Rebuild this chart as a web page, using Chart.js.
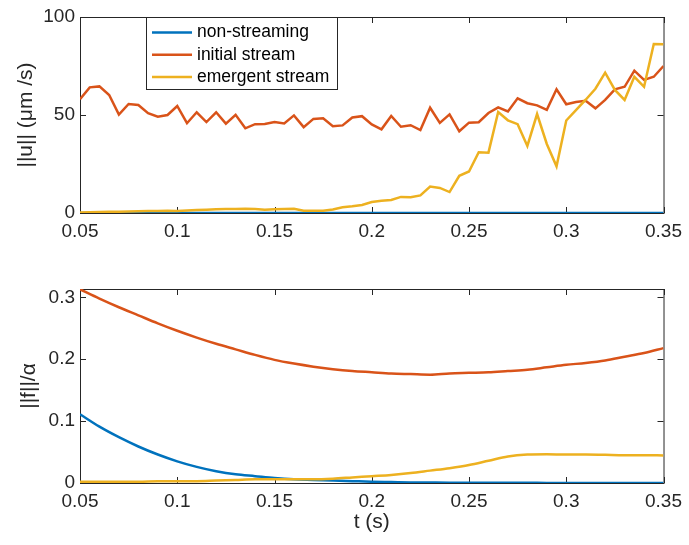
<!DOCTYPE html>
<html>
<head>
<meta charset="utf-8">
<title>stream norms</title>
<script src="https://cdn.jsdelivr.net/npm/chart.js@4"></script>
<style>
    html, body { margin: 0; padding: 0; background: #fff; }
    #wrap { position: relative; width: 689px; height: 545px; overflow: hidden; }
    #topChart { position: absolute; left: 0; top: 0; }
    #bottomChart { position: absolute; left: 0; top: 250px; }
</style>
</head>
<body>
<div id="wrap">
    <canvas id="topChart" width="689" height="250"></canvas>
    <canvas id="bottomChart" width="689" height="295"></canvas>
</div>
<script>
// time samples (s)
const tVelocity = [
    0.05, 0.055, 0.06, 0.065, 0.07, 0.075, 0.08, 0.085, 0.09, 0.095,
    0.10, 0.105, 0.11, 0.115, 0.12, 0.125, 0.13, 0.135, 0.14, 0.145,
    0.15, 0.155, 0.16, 0.165, 0.17, 0.175, 0.18, 0.185, 0.19, 0.195,
    0.20, 0.205, 0.21, 0.215, 0.22, 0.225, 0.23, 0.235, 0.24, 0.245,
    0.25, 0.255, 0.26, 0.265, 0.27, 0.275, 0.28, 0.285, 0.29, 0.295,
    0.30, 0.305, 0.31, 0.315, 0.32, 0.325, 0.33, 0.335, 0.34, 0.345,
    0.35
];
const tForce = [
    0.05, 0.06, 0.07, 0.08, 0.09, 0.10, 0.11, 0.12, 0.13, 0.14,
    0.15, 0.16, 0.17, 0.18, 0.19, 0.20, 0.21, 0.22, 0.23, 0.24,
    0.25, 0.26, 0.27, 0.28, 0.29, 0.30, 0.31, 0.32, 0.33, 0.34,
    0.35
];

// ||u|| (um/s)
const uNonStreaming = [
    0, 0, 0, 0, 0, 0, 0, 0, 0, 0,
    0, 0, 0, 0, 0, 0, 0, 0, 0, 0,
    0, 0, 0, 0, 0, 0, 0, 0, 0, 0,
    0, 0, 0, 0, 0, 0, 0, 0, 0, 0,
    0, 0, 0, 0, 0, 0, 0, 0, 0, 0,
    0, 0, 0, 0, 0, 0, 0, 0, 0, 0,
    0
];
const uInitial = [
    58.0, 64.1, 64.6, 60.2, 50.2, 55.6, 55.1, 50.9, 49.1, 50.0,
    54.6, 45.8, 51.4, 46.4, 51.4, 45.6, 50.1, 43.2, 45.3, 45.4,
    46.4, 45.7, 49.8, 43.8, 48.0, 48.3, 44.3, 44.7, 48.7, 49.4,
    45.2, 42.7, 49.5, 44.0, 44.8, 42.3, 53.7, 46.0, 50.3, 41.7,
    46.1, 46.3, 51.0, 53.9, 51.8, 58.5, 56.0, 54.9, 52.6, 63.1,
    55.5, 56.6, 57.3, 53.4, 57.7, 63.1, 64.4, 72.6, 67.9, 69.5,
    75.0
];
const uEmergent = [
    0.3, 0.4, 0.5, 0.6, 0.7, 0.8, 0.9, 1.0, 1.0, 1.1,
    1.0, 1.3, 1.5, 1.7, 1.9, 2.0, 2.0, 2.2, 2.0, 1.7,
    1.9, 2.1, 2.2, 1.2, 1.1, 1.2, 1.8, 2.9, 3.4, 4.1,
    5.6, 6.2, 6.6, 8.2, 8.0, 9.0, 13.5, 12.8, 10.7, 19.0,
    21.2, 31.0, 30.8, 51.5, 47.3, 45.3, 34.2, 50.5, 35.2, 23.8,
    47.2, 52.5, 57.8, 63.4, 71.6, 62.8, 57.7, 69.5, 64.4, 86.2,
    86.1
];

// ||f|| / alpha
const fNonStreaming = [
    0.111, 0.091, 0.074, 0.059, 0.046, 0.035, 0.026, 0.019, 0.014, 0.011,
    0.008, 0.006, 0.005, 0.004, 0.003, 0.002, 0.0015, 0.001, 0.0008, 0.0006,
    0.0005, 0.0004, 0.0003, 0.0003, 0.0002, 0.0002, 0.0002, 0.0001, 0.0001, 0.0001,
    0.0001
];
const fInitial = [
    0.313, 0.298, 0.284, 0.271, 0.258, 0.246, 0.235, 0.225, 0.216, 0.207,
    0.199, 0.193, 0.188, 0.184, 0.181, 0.179, 0.177, 0.176, 0.175, 0.177,
    0.178, 0.179, 0.181, 0.183, 0.187, 0.191, 0.194, 0.198, 0.204, 0.210,
    0.218
];
const fEmergent = [
    0.002, 0.002, 0.002, 0.002, 0.003, 0.003, 0.003, 0.004, 0.005, 0.006,
    0.006, 0.006, 0.006, 0.007, 0.009, 0.011, 0.013, 0.016, 0.020, 0.024,
    0.029, 0.036, 0.043, 0.046, 0.0465, 0.046, 0.046, 0.0455, 0.045, 0.045,
    0.0445
];

const seriesNames = ['non-streaming', 'initial stream', 'emergent stream'];
const seriesColors = ['#0072BD', '#D95319', '#EDB120'];

const xTicks = [0.05, 0.1, 0.15, 0.2, 0.25, 0.3, 0.35];
const xTickLabels = ['0.05', '0.1', '0.15', '0.2', '0.25', '0.3', '0.35'];
const uTicks = [0, 50, 100];
const uTickLabels = ['0', '50', '100'];
const fTicks = [0, 0.1, 0.2, 0.3];
const fTickLabels = ['0', '0.1', '0.2', '0.3'];

document.addEventListener('DOMContentLoaded', () => {
    const axisColor = '#262626';
    Chart.defaults.font.family = "'Liberation Sans', Arial, sans-serif";
    Chart.defaults.color = axisColor;

    // box round the plot area with inward tick marks
    const matlabAxes = {
        id: 'matlabAxes',
        beforeDatasetsDraw(chart) {
            const { ctx, chartArea: a, scales } = chart;
            ctx.save();
            ctx.strokeStyle = axisColor;
            ctx.lineWidth = 1;
            ctx.strokeRect(a.left + 0.5, a.top + 0.5, a.right - a.left, a.bottom - a.top);
            ctx.beginPath();
            scales.x.ticks.forEach(t => {
                const px = Math.round(scales.x.getPixelForValue(t.value)) + 0.5;
                ctx.moveTo(px, a.bottom);
                ctx.lineTo(px, a.bottom - 6);
                ctx.moveTo(px, a.top);
                ctx.lineTo(px, a.top + 6);
            });
            scales.y.ticks.forEach(t => {
                const py = Math.round(scales.y.getPixelForValue(t.value)) + 0.5;
                ctx.moveTo(a.left, py);
                ctx.lineTo(a.left + 6, py);
                ctx.moveTo(a.right, py);
                ctx.lineTo(a.right - 6, py);
            });
            ctx.stroke();
            ctx.restore();
        }
    };

    // legend drawn inside the top axes
    const insideLegend = {
        id: 'insideLegend',
        afterDatasetsDraw(chart) {
            const { ctx, chartArea: a } = chart;
            const left = a.left + 66, top = a.top, w = 191, h = 72;
            ctx.save();
            ctx.fillStyle = '#fff';
            ctx.fillRect(left, top, w, h);
            ctx.strokeStyle = axisColor;
            ctx.lineWidth = 1;
            ctx.strokeRect(left + 0.5, top + 0.5, w, h);
            ctx.font = "17.5px 'Liberation Sans', Arial, sans-serif";
            ctx.textBaseline = 'middle';
            ctx.fillStyle = '#000';
            chart.data.datasets.forEach((ds, i) => {
                const y = top + 15.5 + i * 22.3;
                ctx.strokeStyle = ds.borderColor;
                ctx.lineWidth = 2.5;
                ctx.beginPath();
                ctx.moveTo(left + 6, y);
                ctx.lineTo(left + 46, y);
                ctx.stroke();
                ctx.fillText(ds.label, left + 51, y);
            });
            ctx.restore();
        }
    };

    function makeDatasets(times, series, smooth) {
        return series.map((values, i) => ({
            label: seriesNames[i],
            data: times.map((t, k) => ({ x: t, y: values[k] })),
            borderColor: seriesColors[i],
            backgroundColor: seriesColors[i],
            borderWidth: 2.5,
            pointRadius: 0,
            cubicInterpolationMode: smooth ? 'monotone' : 'default',
            tension: 0,
            fill: false,
            order: 3 - i
        }));
    }

    function makeOptions(cfg) {
        return {
            responsive: false,
            animation: false,
            layout: { padding: { top: cfg.padTop, right: 20, bottom: 0, left: 0 } },
            plugins: { legend: { display: false }, tooltip: { enabled: false } },
            scales: {
                x: {
                    type: 'linear',
                    min: 0.05,
                    max: 0.35,
                    grid: { display: false, drawTicks: false },
                    border: { display: false },
                    afterBuildTicks: scale => { scale.ticks = xTicks.map(v => ({ value: v })); },
                    afterFit: scale => { scale.height = cfg.xHeight; },
                    ticks: {
                        padding: 7,
                        maxRotation: 0,
                        font: { size: 19 },
                        callback: (v, i) => xTickLabels[i]
                    },
                    title: {
                        display: !!cfg.xTitle,
                        text: cfg.xTitle || '',
                        font: { size: 21 },
                        padding: { top: 0, bottom: 10 }
                    }
                },
                y: {
                    type: 'linear',
                    min: cfg.yMin,
                    max: cfg.yMax,
                    grid: { display: false, drawTicks: false },
                    border: { display: false },
                    afterBuildTicks: scale => { scale.ticks = cfg.yTicks.map(v => ({ value: v })); },
                    afterFit: scale => { scale.width = 80; },
                    ticks: {
                        padding: 5,
                        font: { size: 19 },
                        callback: (v, i) => cfg.yTickLabels[i]
                    },
                    title: {
                        display: true,
                        text: cfg.yTitle,
                        font: { size: 21 },
                        padding: { top: cfg.yTitlePad, bottom: 0 }
                    }
                }
            }
        };
    }

    new Chart(document.getElementById('topChart'), {
        type: 'line',
        data: { datasets: makeDatasets(tVelocity, [uNonStreaming, uInitial, uEmergent], false) },
        options: makeOptions({
            padTop: 17, xHeight: 37,
            yMin: 0, yMax: 100, yTicks: uTicks, yTickLabels: uTickLabels,
            yTitle: '||u|| (μm /s)', yTitlePad: 14
        }),
        plugins: [matlabAxes, insideLegend]
    });

    new Chart(document.getElementById('bottomChart'), {
        type: 'line',
        data: { datasets: makeDatasets(tForce, [fNonStreaming, fInitial, fEmergent], true) },
        options: makeOptions({
            padTop: 39, xHeight: 62,
            yMin: 0, yMax: 0.3135, yTicks: fTicks, yTickLabels: fTickLabels,
            yTitle: '||f||/α', yTitlePad: 17, xTitle: 't (s)'
        }),
        plugins: [matlabAxes]
    });
});
</script>
</body>
</html>
